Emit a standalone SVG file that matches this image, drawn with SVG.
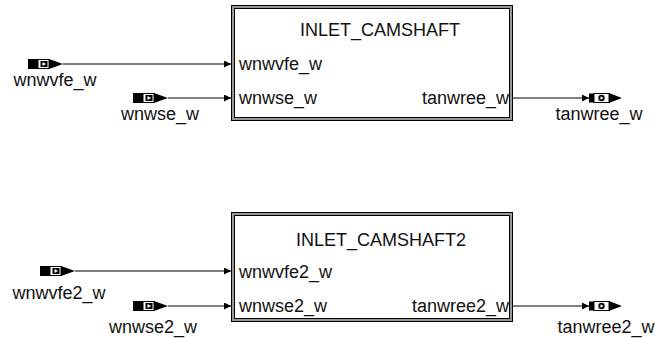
<svg xmlns="http://www.w3.org/2000/svg" width="655" height="338" viewBox="0 0 655 338">
<defs>
<style>
text{font-family:"Liberation Sans",Arial,sans-serif;font-size:18px;fill:#111}
.wire{stroke:#000;stroke-width:1;fill:none;marker-end:url(#ah)}
.outer{fill:#fff;stroke:#000;stroke-width:1}
.frame{fill:none;stroke:#999;stroke-width:2}
.inner{fill:none;stroke:#000;stroke-width:1}
</style>
<marker id="ah" viewBox="0 0 8 8" refX="8" refY="4" markerWidth="7" markerHeight="7" markerUnits="userSpaceOnUse" orient="auto">
<path d="M0,0 L8,4 L0,8 z" fill="#000"/>
</marker>
<g id="inport">
<rect x="0" y="-5" width="10" height="10" fill="#000"/>
<rect x="10" y="-4.5" width="11" height="9" fill="#fff" stroke="#000" stroke-width="1"/>
<rect x="12.5" y="-3" width="7" height="6" fill="#000"/>
<path d="M14.5,-2 L18,0 L14.5,2 z" fill="#fff"/>
<path d="M21,-5 L35,0 L21,5 z" fill="#000"/>
</g>
<g id="outport">
<rect x="0" y="-4.5" width="5" height="9" fill="#000"/>
<rect x="5" y="-4.5" width="15" height="9" fill="#fff" stroke="#000" stroke-width="1"/>
<circle cx="12.5" cy="0" r="3.2" fill="#000"/>
<path d="M11.5,-1.8 L14.5,0 L11.5,1.8 z" fill="#fff"/>
<path d="M20,-5 L33,0 L20,5 z" fill="#000"/>
</g>
</defs>
<rect width="655" height="338" fill="#fff"/>

<g id="connectors">
<line class="wire" x1="63" y1="64" x2="231" y2="64"/>
<line class="wire" x1="168" y1="98" x2="231" y2="98"/>
<line class="wire" x1="513" y1="98" x2="589" y2="98"/>
<line class="wire" x1="75" y1="271" x2="231" y2="271"/>
<line class="wire" x1="168" y1="306" x2="231" y2="306"/>
<line class="wire" x1="513" y1="306" x2="589" y2="306"/>
</g>

<g id="INLET_CAMSHAFT">
<rect class="outer" x="231.5" y="5.5" width="281" height="115"/>
<rect class="frame" x="233" y="7" width="278" height="112"/>
<rect class="inner" x="234.5" y="8.5" width="275" height="109"/>
<text x="380" y="36" text-anchor="middle">INLET_CAMSHAFT</text>
<text x="239" y="70">wnwvfe_w</text>
<text x="239" y="104">wnwse_w</text>
<text x="509" y="104" text-anchor="end">tanwree_w</text>
</g>

<g id="INLET_CAMSHAFT2">
<rect class="outer" x="231.5" y="212.5" width="281" height="109"/>
<rect class="frame" x="233" y="214" width="278" height="106"/>
<rect class="inner" x="234.5" y="215.5" width="275" height="103"/>
<text x="381" y="246" text-anchor="middle">INLET_CAMSHAFT2</text>
<text x="239" y="278">wnwvfe2_w</text>
<text x="239" y="312">wnwse2_w</text>
<text x="509" y="312" text-anchor="end">tanwree2_w</text>
</g>

<g id="in_wnwvfe_w">
<use href="#inport" x="28" y="64"/>
<text x="55" y="86" text-anchor="middle">wnwvfe_w</text>
</g>
<g id="in_wnwse_w">
<use href="#inport" x="133" y="98"/>
<text x="160" y="120" text-anchor="middle">wnwse_w</text>
</g>
<g id="out_tanwree_w">
<use href="#outport" x="589" y="98"/>
<text x="599" y="120" text-anchor="middle">tanwree_w</text>
</g>

<g id="in_wnwvfe2_w">
<use href="#inport" x="40" y="271"/>
<text x="59" y="299" text-anchor="middle">wnwvfe2_w</text>
</g>
<g id="in_wnwse2_w">
<use href="#inport" x="133" y="306"/>
<text x="153" y="333" text-anchor="middle">wnwse2_w</text>
</g>
<g id="out_tanwree2_w">
<use href="#outport" x="589" y="306"/>
<text x="606" y="333" text-anchor="middle">tanwree2_w</text>
</g>
</svg>
